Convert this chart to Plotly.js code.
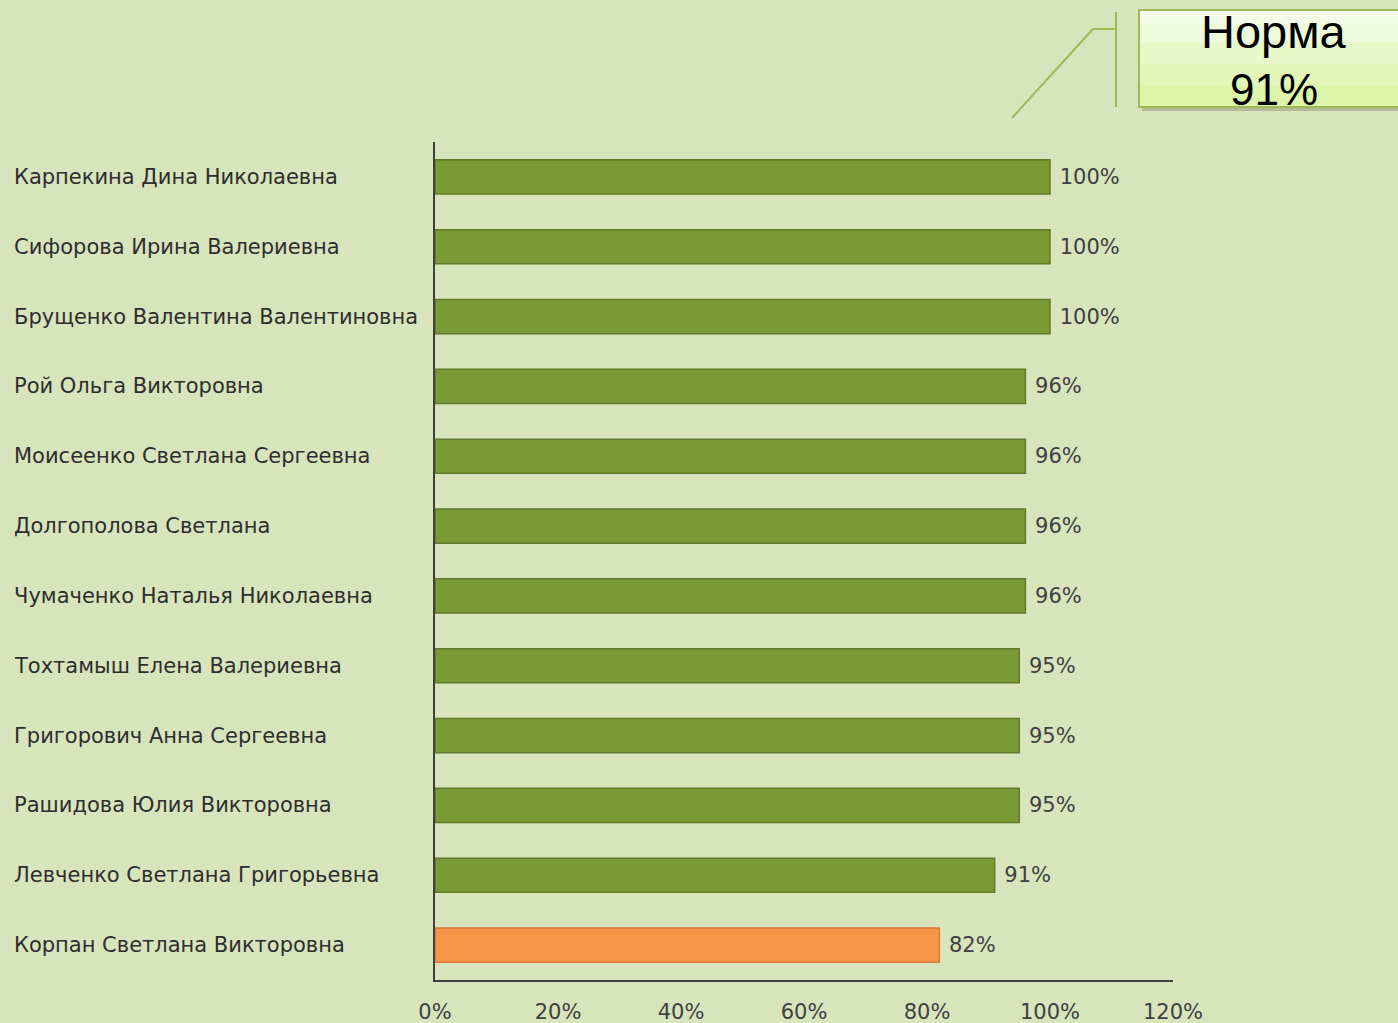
<!DOCTYPE html>
<html>
<head>
<meta charset="utf-8">
<script src="https://cdn.plot.ly/plotly-3.0.1.min.js"></script>
<style>html,body{margin:0;padding:0;background:#d8e4bc;}#chart{width:1398px;height:1023px;}</style>
</head>
<body>
<div id="chart"></div>
<script>
const names = [
  "Карпекина Дина Николаевна",
  "Сифорова Ирина Валериевна",
  "Брущенко Валентина Валентиновна",
  "Рой Ольга Викторовна",
  "Моисеенко Светлана Сергеевна",
  "Долгополова Светлана",
  "Чумаченко Наталья Николаевна",
  "Тохтамыш Елена Валериевна",
  "Григорович Анна Сергеевна",
  "Рашидова Юлия Викторовна",
  "Левченко Светлана Григорьевна",
  "Корпан Светлана Викторовна"
];
const values = [1.00, 1.00, 1.00, 0.96, 0.96, 0.96, 0.96, 0.95, 0.95, 0.95, 0.91, 0.82];
const norm = 0.91;
const tickVals = [0, 0.2, 0.4, 0.6, 0.8, 1.0, 1.2];
const tickText = ["0%", "20%", "40%", "60%", "80%", "100%", "120%"];

const green = "#7a9a36", greenLine = "#5f7a28";
const orange = "#f79646", orangeLine = "#d9783a";
const colors = values.map(v => v < norm ? orange : green);
const lineColors = values.map(v => v < norm ? orangeLine : greenLine);

const trace = {
  type: "bar",
  orientation: "h",
  y: names,
  x: values,
  marker: { color: colors, line: { color: lineColors, width: 1.5 } },
  text: values.map(v => " " + Math.round(v * 100) + "%"),
  textposition: "outside",
  cliponaxis: false,
  textfont: { family: "DejaVu Sans", size: 21, color: "#404040" },
  hoverinfo: "none"
};

// category labels, left aligned
const labelAnns = names.map(n => ({
  xref: "paper", yref: "y", x: -0.5732, y: n,
  xanchor: "left", yanchor: "middle",
  text: n, showarrow: false,
  font: { family: "DejaVu Sans", size: 21, color: "#2e2e2e" }
}));

const P = (px) => (px - 435) / 738;
const Q = (py) => (980 - py) / 838;

const shapes = [
  // callout lines
  { type: "line", xref: "paper", yref: "paper", x0: P(1012), y0: Q(118), x1: P(1093), y1: Q(29), line: { color: "#9bbb59", width: 2 } },
  { type: "line", xref: "paper", yref: "paper", x0: P(1093), y0: Q(29), x1: P(1116), y1: Q(29), line: { color: "#9bbb59", width: 2 } },
  { type: "line", xref: "paper", yref: "paper", x0: P(1116), y0: Q(12), x1: P(1116), y1: Q(107), line: { color: "#9bbb59", width: 2 } },
  // shadow
  { type: "rect", xref: "paper", yref: "paper", x0: P(1142), y0: Q(111), x1: P(1402), y1: Q(14), fillcolor: "rgba(90,100,70,0.3)", line: { width: 0 } },
  // box with approximate gradient
  { type: "rect", xref: "paper", yref: "paper", x0: P(1139), y0: Q(107), x1: P(1400), y1: Q(10), fillcolor: "#dcf5a8", line: { width: 0 } },
  { type: "rect", xref: "paper", yref: "paper", x0: P(1139), y0: Q(86), x1: P(1400), y1: Q(10), fillcolor: "#e2f6b8", line: { width: 0 } },
  { type: "rect", xref: "paper", yref: "paper", x0: P(1139), y0: Q(64), x1: P(1400), y1: Q(10), fillcolor: "#e8f8c9", line: { width: 0 } },
  { type: "rect", xref: "paper", yref: "paper", x0: P(1139), y0: Q(42), x1: P(1400), y1: Q(10), fillcolor: "#eefad9", line: { width: 0 } },
  { type: "rect", xref: "paper", yref: "paper", x0: P(1139), y0: Q(24), x1: P(1400), y1: Q(10), fillcolor: "#f3fce6", line: { width: 0 } },
  { type: "rect", xref: "paper", yref: "paper", x0: P(1139), y0: Q(107), x1: P(1400), y1: Q(10), fillcolor: "rgba(0,0,0,0)", line: { color: "#9bbb59", width: 2 } }
];

const annotations = labelAnns.concat([
  { xref: "paper", yref: "paper", x: P(1274), y: Q(31), xanchor: "center", yanchor: "middle",
    text: "Норма", showarrow: false, font: { family: "Liberation Sans", size: 47, color: "#000000" } },
  { xref: "paper", yref: "paper", x: P(1274), y: Q(89), xanchor: "center", yanchor: "middle",
    text: Math.round(norm * 100) + "%", showarrow: false, font: { family: "Liberation Sans", size: 44, color: "#000000" } }
]);

const layout = {
  width: 1398, height: 1023,
  paper_bgcolor: "#d8e4bc", plot_bgcolor: "#d8e4bc",
  margin: { l: 435, r: 225, t: 142, b: 43, pad: 0 },
  showlegend: false,
  bargap: 0.51,
  xaxis: {
    range: [0, 1.2], tickvals: tickVals, ticktext: tickText,
    showgrid: false, zeroline: false,
    showline: true, linecolor: "#404040", linewidth: 2,
    ticks: "", ticklabelstandoff: 12,
    tickfont: { family: "DejaVu Sans", size: 21, color: "#404040" },
    fixedrange: true
  },
  yaxis: {
    autorange: "reversed", type: "category",
    showticklabels: false, showgrid: false, zeroline: false,
    showline: true, linecolor: "#404040", linewidth: 2, ticks: "",
    fixedrange: true
  },
  shapes: shapes,
  annotations: annotations
};

Plotly.newPlot("chart", [trace], layout, { displayModeBar: false, staticPlot: true });
</script>
</body>
</html>
